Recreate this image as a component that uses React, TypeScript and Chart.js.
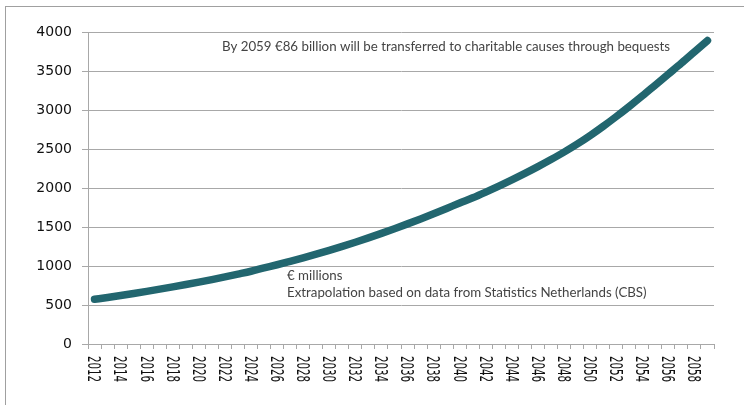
import React, { useEffect, useRef } from "react";
import { Chart, registerables } from "chart.js";

Chart.register(...registerables);

const years: string[] = [
  "2012", "2013", "2014", "2015", "2016", "2017", "2018", "2019", "2020", "2021",
  "2022", "2023", "2024", "2025", "2026", "2027", "2028", "2029", "2030", "2031",
  "2032", "2033", "2034", "2035", "2036", "2037", "2038", "2039", "2040", "2041",
  "2042", "2043", "2044", "2045", "2046", "2047", "2048", "2049", "2050", "2051",
  "2052", "2053", "2054", "2055", "2056", "2057", "2058", "2059",
];

const bequests: number[] = [
  573, 597, 622, 648, 675, 703, 732, 762, 793, 826,
  860, 896, 933, 975, 1016, 1060, 1105, 1152, 1201, 1252,
  1305, 1360, 1418, 1478, 1540, 1604, 1670, 1738, 1808, 1875,
  1948, 2024, 2104, 2187, 2274, 2365, 2460, 2562, 2672, 2790,
  2915, 3045, 3180, 3320, 3460, 3600, 3745, 3890,
];

const xTickLabels: string[] = [
  "2012", "2014", "2016", "2018", "2020", "2022", "2024", "2026", "2028", "2030",
  "2032", "2034", "2036", "2038", "2040", "2042", "2044", "2046", "2048", "2050",
  "2052", "2054", "2056", "2058",
];

const Y_MIN = 0;
const Y_MAX = 4000;
const Y_STEP = 500;

const topNote = "By 2059 €86 billion will be transferred to charitable causes through bequests";
const unitNote = "€ millions";
const sourceNote = "Extrapolation based on data from Statistics Netherlands (CBS)";

const GRID = "#a8a8a8";
const LINE = "#22666f";

const overlayPlugin = {
  id: "overlay",
  afterDraw(chart: any) {
    const ctx = chart.ctx as CanvasRenderingContext2D;
    const xs = chart.scales.x;
    ctx.save();
    ctx.fillStyle = "#111111";
    ctx.font = '18px "DejaVu Sans"';
    ctx.textAlign = "left";
    ctx.textBaseline = "middle";
    years.forEach((yr, i) => {
      if (!xTickLabels.includes(yr)) return;
      const x = xs.getPixelForValue(i);
      ctx.save();
      ctx.translate(x - 1.5, xs.top + 12);
      ctx.rotate(Math.PI / 2);
      ctx.scale(0.57, 1);
      ctx.fillText(yr, 0, 0);
      ctx.restore();
    });
    ctx.restore();

    ctx.save();
    ctx.fillStyle = "#444444";
    ctx.font = '13.3px Lato';
    ctx.textAlign = "left";
    ctx.textBaseline = "middle";
    ctx.fillText(topNote, 222, 47);
    ctx.fillText(unitNote, 287, 276);
    ctx.fillText(sourceNote, 287, 293);
    ctx.restore();
  },
};

export default function App() {
  const ref = useRef<HTMLCanvasElement | null>(null);

  useEffect(() => {
    if (!ref.current) return;
    const chart = new Chart(ref.current, {
      type: "line",
      data: {
        labels: years,
        datasets: [
          {
            data: bequests,
            borderColor: LINE,
            backgroundColor: LINE,
            borderWidth: 7.5,
            borderCapStyle: "round",
            borderJoinStyle: "round",
            pointRadius: 0,
            cubicInterpolationMode: "monotone",
            fill: false,
          },
        ],
      },
      options: {
        responsive: false,
        animation: false,
        layout: { padding: { top: 32, right: 30, left: 0, bottom: 0 } },
        plugins: { legend: { display: false }, tooltip: { enabled: false } },
        scales: {
          x: {
            type: "category",
            offset: true,
            afterFit: (s: any) => {
              s.height = 61;
            },
            grid: {
              offset: true,
              drawOnChartArea: false,
              drawTicks: true,
              tickLength: 5,
              color: GRID,
            },
            border: { color: GRID, width: 1 },
            ticks: { display: false, autoSkip: false },
          },
          y: {
            min: Y_MIN,
            max: Y_MAX,
            afterFit: (s: any) => {
              s.width = 88;
            },
            grid: { color: GRID, tickLength: 6, drawTicks: true },
            border: { color: GRID, width: 1 },
            ticks: {
              stepSize: Y_STEP,
              padding: 10,
              color: "#111111",
              font: { family: "DejaVu Sans", size: 14 },
              callback: (v: any) => String(v),
            },
          },
        },
      },
      plugins: [overlayPlugin],
    });
    return () => chart.destroy();
  }, []);

  return (
    <div style={{ position: "absolute", left: 0, top: 0, width: 744, height: 405, background: "#fff", overflow: "hidden" }}>
      <div
        style={{
          position: "absolute",
          left: 5,
          top: 6,
          width: 760,
          height: 420,
          borderLeft: "1px solid #a0a0a0",
          borderTop: "1px solid #a0a0a0",
        }}
      />
      <canvas ref={ref} width={744} height={405} style={{ position: "absolute", left: 0, top: 0, width: 744, height: 405 }} />
    </div>
  );
}
